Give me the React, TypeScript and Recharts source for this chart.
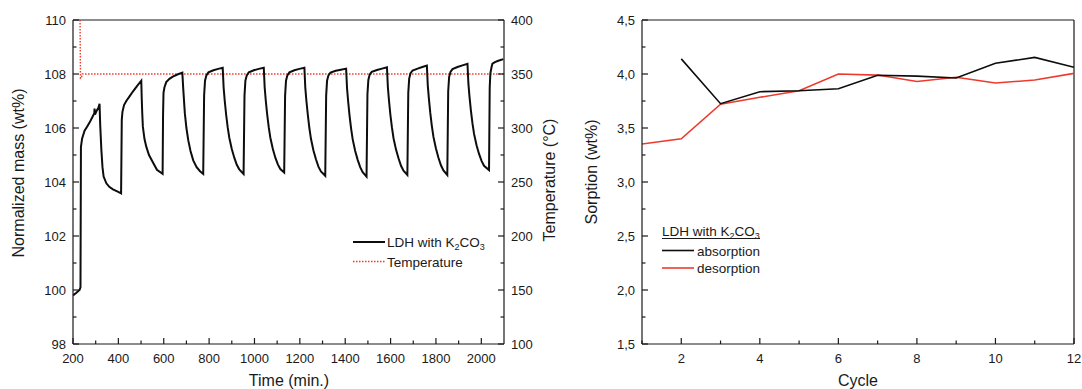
import { LineChart, Line, XAxis, YAxis, ReferenceLine, Legend } from "recharts";

const FONT = '"Liberation Sans", Arial, Helvetica, sans-serif';
const INK = "#1a1a1a";
const RED = "#ee3a2c";

// Left panel: mass during cycling (time in min, mass in wt%)
const massTime = [
  200, 215, 229, 233, 235, 240, 251, 262, 273, 285, 294, 295, 297, 305, 312, 317,
  320, 325, 330, 335, 347, 360, 376, 395, 412,
  415, 418, 425, 435, 450, 464, 482, 501,
  503, 505, 508, 515, 523, 535, 552, 570, 595,
  597, 599, 603, 611, 625, 640, 660, 682,
  686, 693, 700, 708, 718, 730, 745, 760, 774,
  778, 782, 788, 797, 819, 840, 860,
  864, 869, 875, 882, 889, 900, 911, 922, 933, 952,
  956, 960, 966, 975, 997, 1019, 1041,
  1045, 1050, 1056, 1063, 1070, 1081, 1092, 1103, 1114, 1131,
  1135, 1139, 1145, 1154, 1176, 1198, 1220,
  1224, 1229, 1235, 1242, 1249, 1260, 1271, 1282, 1293, 1312,
  1316, 1320, 1326, 1335, 1358, 1381, 1404,
  1408, 1413, 1419, 1426, 1433, 1444, 1455, 1466, 1477, 1494,
  1498, 1502, 1508, 1517, 1540, 1562, 1584,
  1588, 1593, 1599, 1606, 1613, 1624, 1635, 1646, 1657, 1674,
  1678, 1682, 1688, 1697, 1719, 1740, 1760,
  1764, 1769, 1775, 1782, 1789, 1800, 1811, 1822, 1833, 1850,
  1854, 1858, 1864, 1873, 1895, 1917, 1939,
  1943, 1948, 1954, 1961, 1968, 1979, 1990, 2001, 2012, 2034,
  2037, 2040, 2045, 2049, 2060, 2075, 2097,
];

const massValue = [
  99.8, 99.9, 100.0, 100.1, 105.3, 105.6, 105.9, 106.05, 106.2, 106.4, 106.55, 106.72, 106.5, 106.65, 106.75, 106.9,
  106.1, 105.2, 104.55, 104.2, 103.95, 103.82, 103.73, 103.65, 103.58,
  106.3, 106.6, 106.85, 107.0, 107.18, 107.35, 107.55, 107.75,
  107.1, 106.6, 106.05, 105.6, 105.31, 105.0, 104.73, 104.45, 104.3,
  106.5, 107.3, 107.5, 107.7, 107.82, 107.9, 107.98, 108.05,
  107.45, 106.55, 106.0, 105.55, 105.15, 104.8, 104.55, 104.4, 104.3,
  107.2, 107.75, 107.95, 108.06, 108.14, 108.19, 108.23,
  107.5, 107.0, 106.5, 106.02, 105.64, 105.22, 104.9, 104.64, 104.47, 104.3,
  107.2, 107.75, 107.95, 108.06, 108.14, 108.19, 108.23,
  107.5, 107.0, 106.5, 106.02, 105.64, 105.22, 104.9, 104.65, 104.48, 104.35,
  107.2, 107.75, 107.95, 108.06, 108.14, 108.19, 108.23,
  107.5, 107.0, 106.5, 106.0, 105.6, 105.17, 104.84, 104.57, 104.39, 104.23,
  107.2, 107.75, 107.95, 108.05, 108.12, 108.16, 108.2,
  107.48, 106.98, 106.47, 105.98, 105.58, 105.15, 104.82, 104.55, 104.36, 104.2,
  107.25, 107.78, 107.98, 108.08, 108.15, 108.2, 108.25,
  107.52, 107.02, 106.5, 106.02, 105.62, 105.2, 104.88, 104.6, 104.42, 104.26,
  107.3, 107.83, 108.03, 108.13, 108.2, 108.26, 108.31,
  107.58, 107.08, 106.56, 106.07, 105.67, 105.24, 104.9, 104.62, 104.43, 104.26,
  107.35, 107.88, 108.08, 108.18, 108.26, 108.32, 108.38,
  107.65, 107.15, 106.65, 106.17, 105.78, 105.36, 105.04, 104.78, 104.6, 104.44,
  107.5, 108.03, 108.25, 108.38, 108.44, 108.49, 108.55,
];

const tempTime = [231, 233, 237, 241, 2100];
const tempValue = [400, 346, 346.5, 350, 350];

const timeTicks = [200, 300, 400, 500, 600, 700, 800, 900, 1000, 1100, 1200, 1300, 1400, 1500, 1600, 1700, 1800, 1900, 2000];
const massTicks = [98, 99, 100, 101, 102, 103, 104, 105, 106, 107, 108, 109, 110];
const tempTicks = [100, 125, 150, 175, 200, 225, 250, 275, 300, 325, 350, 375, 400];

// Right panel: sorption per cycle
const cycles = [1, 2, 3, 4, 5, 6, 7, 8, 9, 10, 11, 12];
const absorption = [null, 4.14, 3.725, 3.836, 3.845, 3.864, 3.988, 3.98, 3.963, 4.099, 4.154, 4.062];
const desorption = [3.352, 3.4, 3.72, 3.784, 3.845, 4.0, 3.99, 3.93, 3.97, 3.917, 3.944, 4.006];
const cycleTicks = [1, 2, 3, 4, 5, 6, 7, 8, 9, 10, 11, 12];
const sorptionTicks = [1.5, 1.75, 2, 2.25, 2.5, 2.75, 3, 3.25, 3.5, 3.75, 4, 4.25, 4.5];

const massData = massTime.map((t, i) => ({ t, m: massValue[i] }));
const tempData = tempTime.map((t, i) => ({ t, temp: tempValue[i] }));
const cycleData = cycles.map((c, i) => ({ cycle: c, absorption: absorption[i], desorption: desorption[i] }));

const tickText = { fontFamily: FONT, fontSize: 13, fill: INK };

type Fmt = (v: number) => string | null;

const bottomTick = (fmt: Fmt) => (props: any) => {
  const { x, y, payload } = props;
  const label = fmt(payload.value);
  const len = label !== null ? 6 : 3.5;
  return (
    <g>
      <line x1={x} x2={x} y1={y} y2={y - len} stroke={INK} strokeWidth={1.2} />
      {label !== null && (
        <text x={x} y={y + 19} textAnchor="middle" {...tickText}>
          {label}
        </text>
      )}
    </g>
  );
};

const leftTick = (fmt: Fmt) => (props: any) => {
  const { x, y, payload } = props;
  const label = fmt(payload.value);
  const len = label !== null ? 6 : 3.5;
  return (
    <g>
      <line x1={x} x2={x + len} y1={y} y2={y} stroke={INK} strokeWidth={1.2} />
      {label !== null && (
        <text x={x - 7} y={y + 4.5} textAnchor="end" {...tickText}>
          {label}
        </text>
      )}
    </g>
  );
};

const rightTick = (fmt: Fmt) => (props: any) => {
  const { x, y, payload } = props;
  const label = fmt(payload.value);
  const len = label !== null ? 6 : 3.5;
  return (
    <g>
      <line x1={x} x2={x - len} y1={y} y2={y} stroke={INK} strokeWidth={1.2} />
      {label !== null && (
        <text x={x + 7} y={y + 4.5} textAnchor="start" {...tickText}>
          {label}
        </text>
      )}
    </g>
  );
};

const everyOther = (step: number) => (v: number) => (v % step === 0 ? String(v) : null);
const commaHalf = (v: number) =>
  Math.abs(v * 2 - Math.round(v * 2)) < 1e-9 ? v.toFixed(1).replace(".", ",") : null;

const axisLine = { stroke: INK, strokeWidth: 1.2 };

const Sub = ({ children }: { children: string }) => (
  <tspan dy={3} fontSize={9}>
    {children}
  </tspan>
);

const MassLegend = () => (
  <svg width={150} height={40} style={{ overflow: "visible" }}>
    <line x1={1} x2={33} y1={10} y2={10} stroke="#0d0d0d" strokeWidth={2} />
    <text x={35} y={15} fontFamily={FONT} fontSize={13.5} fill={INK}>
      LDH with K<Sub>2</Sub>
      <tspan dy={-3}>CO</tspan>
      <Sub>3</Sub>
    </text>
    <line x1={1} x2={33} y1={29.5} y2={29.5} stroke={RED} strokeWidth={1.3} strokeDasharray="1.5 1.5" />
    <text x={35} y={34.5} fontFamily={FONT} fontSize={13.5} fill={INK}>
      Temperature
    </text>
  </svg>
);

const SorptionLegend = () => (
  <svg width={130} height={55} style={{ overflow: "visible" }}>
    <text x={1} y={12} fontFamily={FONT} fontSize={13.5} fill={INK}>
      LDH with K<Sub>2</Sub>
      <tspan dy={-3}>CO</tspan>
      <Sub>3</Sub>
    </text>
    <line x1={1} x2={99} y1={14.5} y2={14.5} stroke={INK} strokeWidth={1} />
    <line x1={1} x2={33} y1={26.5} y2={26.5} stroke="#0d0d0d" strokeWidth={1.6} />
    <text x={36} y={31.5} fontFamily={FONT} fontSize={13.5} fill={INK}>
      absorption
    </text>
    <line x1={1} x2={33} y1={44} y2={44} stroke={RED} strokeWidth={1.6} />
    <text x={36} y={49} fontFamily={FONT} fontSize={13.5} fill={INK}>
      desorption
    </text>
  </svg>
);

const titleStyle = { fontFamily: FONT, fontSize: 16, fill: INK };

export default function App() {
  return (
    <div style={{ position: "absolute", left: 0, top: 0, width: 1082, height: 389, background: "#fff" }}>
      <div style={{ position: "absolute", left: 0, top: 0 }}>
        <LineChart width={560} height={389} margin={{ top: 20, right: 0, bottom: 0, left: 0 }}>
          <XAxis
            type="number"
            dataKey="t"
            domain={[200, 2100]}
            ticks={timeTicks}
            interval={0}
            height={45}
            tickSize={0}
            tickMargin={0}
            tickLine={false}
            axisLine={axisLine}
            tick={bottomTick(everyOther(200))}
            allowDataOverflow
          />
          <YAxis
            yAxisId="mass"
            type="number"
            domain={[98, 110]}
            ticks={massTicks}
            interval={0}
            width={73}
            tickSize={0}
            tickMargin={0}
            tickLine={false}
            axisLine={axisLine}
            tick={leftTick(everyOther(2))}
            allowDataOverflow
          />
          <YAxis
            yAxisId="temp"
            orientation="right"
            type="number"
            domain={[100, 400]}
            ticks={tempTicks}
            interval={0}
            width={56}
            tickSize={0}
            tickMargin={0}
            tickLine={false}
            axisLine={axisLine}
            tick={rightTick(everyOther(50))}
            allowDataOverflow
          />
          <ReferenceLine yAxisId="mass" y={110} stroke={INK} strokeWidth={1.2} />
          <Line
            yAxisId="temp"
            data={tempData}
            dataKey="temp"
            type="linear"
            stroke={RED}
            strokeWidth={1.4}
            strokeDasharray="1.5 1.5"
            dot={false}
            activeDot={false}
            isAnimationActive={false}
          />
          <Line
            yAxisId="mass"
            data={massData}
            dataKey="m"
            type="linear"
            stroke="#0d0d0d"
            strokeWidth={2}
            dot={false}
            activeDot={false}
            isAnimationActive={false}
          />
          <Legend
            layout="vertical"
            align="center"
            verticalAlign="middle"
            wrapperStyle={{ left: 352, top: 232, width: 150 }}
            content={() => <MassLegend />}
          />
        </LineChart>
      </div>

      <div style={{ position: "absolute", left: 560, top: 0 }}>
        <LineChart width={522} height={389} data={cycleData} margin={{ top: 20, right: 8, bottom: 0, left: 0 }}>
          <XAxis
            type="number"
            dataKey="cycle"
            domain={[1, 12]}
            ticks={cycleTicks}
            interval={0}
            height={45}
            tickSize={0}
            tickMargin={0}
            tickLine={false}
            axisLine={axisLine}
            tick={bottomTick(everyOther(2))}
            allowDataOverflow
          />
          <YAxis
            type="number"
            domain={[1.5, 4.5]}
            ticks={sorptionTicks}
            interval={0}
            width={82}
            tickSize={0}
            tickMargin={0}
            tickLine={false}
            axisLine={axisLine}
            tick={leftTick(commaHalf)}
            allowDataOverflow
          />
          <ReferenceLine y={4.5} stroke={INK} strokeWidth={1.2} />
          <ReferenceLine x={12} stroke={INK} strokeWidth={1.2} />
          <Line
            dataKey="desorption"
            type="linear"
            stroke={RED}
            strokeWidth={1.6}
            dot={false}
            activeDot={false}
            isAnimationActive={false}
          />
          <Line
            dataKey="absorption"
            type="linear"
            stroke="#0d0d0d"
            strokeWidth={1.6}
            dot={false}
            activeDot={false}
            isAnimationActive={false}
          />
          <Legend
            layout="vertical"
            align="center"
            verticalAlign="middle"
            wrapperStyle={{ left: 101, top: 224, width: 130 }}
            content={() => <SorptionLegend />}
          />
        </LineChart>
      </div>

      <svg
        width={1082}
        height={389}
        style={{ position: "absolute", left: 0, top: 0, pointerEvents: "none" }}
      >
        <text transform="translate(23.5,173) rotate(-90)" textAnchor="middle" {...titleStyle}>
          Normalized mass (wt%)
        </text>
        <text x={289} y={386} textAnchor="middle" {...titleStyle}>
          Time (min.)
        </text>
        <text transform="translate(555,180) rotate(-90)" textAnchor="middle" {...titleStyle}>
          Temperature (°C)
        </text>
        <text transform="translate(597,172) rotate(-90)" textAnchor="middle" {...titleStyle}>
          Sorption (wt%)
        </text>
        <text x={858} y={386} textAnchor="middle" {...titleStyle}>
          Cycle
        </text>
      </svg>
    </div>
  );
}
